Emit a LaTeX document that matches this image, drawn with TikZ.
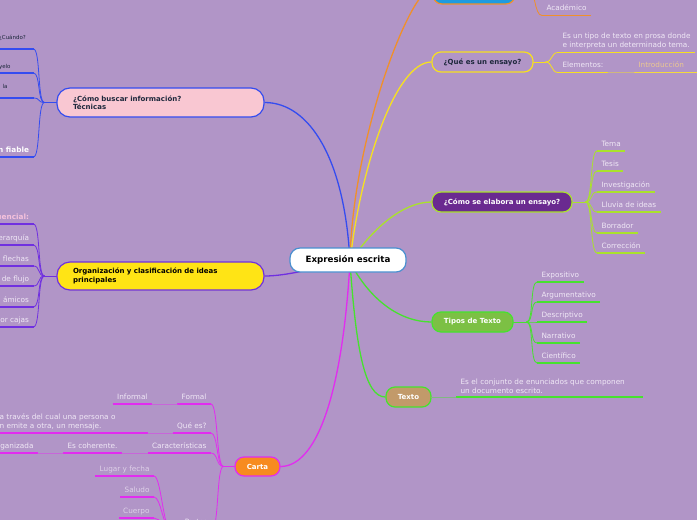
\documentclass[tikz,border=0pt]{standalone}
\usepackage{fontspec}
\setmainfont{DejaVu Sans}

\definecolor{fondo}{RGB}{177,149,199}
\definecolor{azulcentro}{RGB}{74,144,208}
\definecolor{azul}{RGB}{52,76,240}
\definecolor{rosa}{RGB}{249,199,210}
\definecolor{naranja}{RGB}{240,144,42}
\definecolor{celeste}{RGB}{30,155,224}
\definecolor{amarillo}{RGB}{246,224,32}
\definecolor{lima}{RGB}{170,226,44}
\definecolor{morado}{RGB}{106,42,144}
\definecolor{verde}{RGB}{70,226,46}
\definecolor{verdehoja}{RGB}{124,192,68}
\definecolor{cafe}{RGB}{194,154,106}
\definecolor{fucsia}{RGB}{226,44,240}
\definecolor{naranjacarta}{RGB}{247,139,31}
\definecolor{violeta}{RGB}{112,48,224}
\definecolor{amarillofill}{RGB}{255,228,21}
\definecolor{hojatexto}{RGB}{240,232,246}
\definecolor{hojagris}{RGB}{222,208,232}
\definecolor{tinta}{RGB}{30,40,60}
\definecolor{durazno}{RGB}{236,200,144}
\definecolor{rosatexto}{RGB}{246,194,220}

\newcommand\hojafont{\fontsize{7.3}{9}\selectfont}

\pgfdeclarelayer{capafondo}
\pgfdeclarelayer{cables}
\pgfsetlayers{capafondo,cables,main}

\begin{document}
\begin{tikzpicture}[x=1pt,y=-1pt,line cap=round,line join=round,
  wire/.style={line width=1.3pt, draw=#1},
  twig/.style={line width=0.8pt, draw=#1},
  link/.style={line width=0.8pt, draw=#1!45!fondo},
  topic/.style={draw=#1, line width=1.2pt, rounded corners=9pt, inner sep=0pt,
    font=\bfseries\fontsize{7}{8.5}\selectfont},
  leaf/.style={inner xsep=4.5pt, inner ysep=3pt, outer sep=0pt, text depth=1.8pt,
    font=\hojafont, text=hojatexto,
    append after command={(\tikzlastnode.south west) edge[line width=1.8pt, line cap=butt, draw=#1] (\tikzlastnode.south east)}},
  bloque/.style={align=left, text width=#1, text depth=},
  nota/.style={font=\fontsize{5.5}{7}\selectfont, text=tinta, align=left, text width=#1}]
  \useasboundingbox (0,0) rectangle (697,520);
  \begin{pgfonlayer}{capafondo}
    \fill[fondo] (0,0) rectangle (697,520);
  \end{pgfonlayer}

  % central topic and main branches
  \node[topic=azulcentro, fill=white, text=black, font=\bfseries\fontsize{8.7}{10}\selectfont,
    minimum width=116pt, minimum height=24pt, rounded corners=10pt] (centro) at (348,260) {Expresión escrita};
  \coordinate (hub) at (350,262);

  \node[topic=azul, fill=rosa, text=tinta, minimum width=207pt, minimum height=29pt,
    rounded corners=13pt, text width=175pt, align=left] (buscar) at (160.5,102.5) {¿Cómo buscar información?\\Técnicas};
  \node[topic=violeta, fill=amarillofill, text=black, minimum width=207pt, minimum height=28pt,
    rounded corners=13pt, text width=175pt, align=left] (organiza) at (160.5,276) {Organización y clasificación de ideas\\principales};
  \node[topic=naranja, fill=celeste, minimum width=82pt, minimum height=32pt] (arriba) at (474,-12) {};
  \node[topic=amarillo, text=tinta, minimum width=101pt, minimum height=20pt] (ensayo) at (482.5,62) {¿Qué es un ensayo?};
  \node[topic=lima, fill=morado, text=white, minimum width=140pt, minimum height=20pt] (elabora) at (502,202) {¿Cómo se elabora un ensayo?};
  \node[topic=verde, fill=verdehoja, text=white, minimum width=81pt, minimum height=20pt] (tipos) at (472.5,322) {Tipos de Texto};
  \node[topic=verde, fill=cafe, text=white, minimum width=45pt, minimum height=20pt] (texto) at (408.5,397) {Texto};
  \node[topic=fucsia, fill=naranjacarta, text=white, minimum width=45pt, minimum height=19pt] (carta) at (257.5,466.5) {Carta};

  \begin{pgfonlayer}{cables}
    \draw[wire=azul] (hub) .. controls (345,160) and (310,102.5) .. (buscar.east);
    \draw[wire=violeta] (hub) .. controls (320,266) and (290,276) .. (organiza.east);
    \draw[wire=naranja] (hub) .. controls (352,140) and (410,-12) .. (arriba.west);
    \draw[wire=amarillo] (hub) .. controls (360,170) and (395,62) .. (ensayo.west);
    \draw[wire=lima] (hub) .. controls (375,225) and (405,202) .. (elabora.west);
    \draw[wire=verde] (hub) .. controls (370,300) and (400,322) .. (tipos.west);
    \draw[wire=verde] (hub) .. controls (356,350) and (365,397) .. (texto.west);
    \draw[wire=fucsia] (hub) .. controls (342,400) and (315,466.5) .. (carta.east);
  \end{pgfonlayer}

  % top branch
  \node[leaf=naranja, anchor=south west] (academico) at (542,15.5) {Académico};
  \draw[twig=naranja] (arriba.east) -- ++(12,0) coordinate (fa)
    .. controls +(8,0) and +(-8,0) .. (academico.south west);

  % que es un ensayo
  \node[leaf=amarillo, anchor=south west, align=left] (ensdef) at (558,52.5) {Es un tipo de texto en prosa donde\\e interpreta un determinado tema.};
  \node[leaf=amarillo, anchor=south west] (elementos) at (558,72.5) {Elementos:};
  \node[leaf=amarillo!75!durazno, anchor=south west, text=durazno, text width=56pt] (intro) at (634,72.5) {Introducción};
  \draw[link=amarillo] (elementos.south east) -- (intro.south west);
  \draw[twig=amarillo] (ensayo.east) -- ++(12,0) coordinate (fq);
  \foreach \n in {ensdef,elementos}
    \draw[twig=amarillo] (fq) .. controls +(7,0) and +(-7,0) .. (\n.south west);

  % como se elabora
  \foreach \n/\y/\t in {tema/151/Tema, tesis/171/Tesis, investigacion/192/Investigación,
      lluvia/212/Lluvia de ideas, borrador/233/Borrador, correccion/253/Corrección}
    \node[leaf=lima, anchor=south west] (\n) at (597,\y) {\t};
  \draw[twig=lima] (elabora.east) -- ++(13,0) coordinate (fe);
  \foreach \n in {tema,tesis,investigacion,lluvia,borrador,correccion}
    \draw[twig=lima] (fe) .. controls +(7,0) and +(-7,0) .. (\n.south west);

  % tipos de texto
  \foreach \n/\y/\t in {expositivo/282/Expositivo, argumentativo/302/Argumentativo,
      descriptivo/322/Descriptivo, narrativo/343/Narrativo, cientifico/363/Científico}
    \node[leaf=verde, anchor=south west] (\n) at (537,\y) {\t};
  \draw[twig=verde] (tipos.east) -- ++(13,0) coordinate (ft);
  \foreach \n in {expositivo,argumentativo,descriptivo,narrativo,cientifico}
    \draw[twig=verde] (ft) .. controls +(7,0) and +(-7,0) .. (\n.south west);

  % texto
  \node[leaf=verde, anchor=south west, bloque=178pt] (textodef) at (456,397) {Es el conjunto de enunciados que componen\\un documento escrito.};
  \draw[link=verde] (texto.east) -- (textodef.south west);

  % como buscar informacion
  \node[leaf=azul, nota=30pt, inner ysep=8pt, anchor=south east] (cuando) at (33.5,49) {¿Cuándo?};
  \node[leaf=azul, nota=30pt, anchor=south east] (yelo) at (33.5,73) {yelo};
  \node[leaf=azul, nota=26.5pt, inner ysep=8pt, anchor=south east] (la) at (33.5,98) {la};
  \node[leaf=azul, font=\bfseries\hojafont, text=white, anchor=south east] (fiable) at (33.5,157) {n fiable};
  \draw[twig=azul] (buscar.west) -- ++(-12,0) coordinate (fb);
  \foreach \n in {cuando,yelo,la,fiable}
    \draw[twig=azul] (fb) .. controls +(-7,0) and +(7,0) .. (\n.south east);

  % organizacion
  \node[leaf=violeta, font=\bfseries\hojafont, text=rosatexto, anchor=south east] (secuencial) at (33.5,224) {uencial:};
  \foreach \n/\y/\t in {jerarquia/245/erarquía, flechas/266/flechas, flujo/286/de flujo,
      dinamicos/307/ámicos, cajas/327/or cajas}
    \node[leaf=violeta, anchor=south east] (\n) at (33.5,\y) {\t};
  \draw[twig=violeta] (organiza.west) -- ++(-12,0) coordinate (fo);
  \foreach \n in {secuencial,jerarquia,flechas,flujo,dinamicos,cajas}
    \draw[twig=violeta] (fo) .. controls +(-7,0) and +(7,0) .. (\n.south east);

  % carta
  \node[leaf=fucsia, anchor=south east] (formal) at (211,404) {Formal};
  \node[leaf=fucsia, anchor=south east] (informal) at (152,404) {Informal};
  \node[leaf=fucsia, anchor=south east] (quees) at (211,433) {Qué es?};
  \node[leaf=fucsia, anchor=south west, bloque=144pt] (quedef) at (-5,433) {a través del cual una persona o\\n emite a otra, un mensaje.};
  \node[leaf=fucsia, anchor=south east] (caract) at (211,453) {Características};
  \node[leaf=fucsia, anchor=south east] (coherente) at (122,453) {Es coherente.};
  \node[leaf=fucsia, anchor=south east] (organizada) at (38,453) {ganizada};
  \node[leaf=fucsia, anchor=south east] (partes) at (212,529) {Partes};
  \draw[link=fucsia] (informal.south east) -- (formal.south west);
  \draw[link=fucsia] (quedef.south east) -- (quees.south west);
  \draw[link=fucsia] (coherente.south east) -- (caract.south west);
  \draw[link=fucsia] (organizada.south east) -- (coherente.south west);
  \draw[twig=fucsia] (carta.west) -- ++(-11,0) coordinate (fc);
  \foreach \n in {formal,quees,caract,partes}
    \draw[twig=fucsia] (fc) .. controls +(-7,0) and +(7,0) .. (\n.south east);

  \foreach \n/\y/\t in {lugar/476/Lugar y fecha, saludo/497/Saludo, cuerpo/518/Cuerpo}
    \node[leaf=fucsia, text=hojagris, anchor=south east] (\n) at (154,\y) {\t};
  \draw[twig=fucsia] (partes.south west) -- ++(-10,0) coordinate (fp);
  \foreach \n in {lugar,saludo,cuerpo}
    \draw[twig=fucsia] (fp) .. controls +(-7,0) and +(7,0) .. (\n.south east);
\end{tikzpicture}
\end{document}
